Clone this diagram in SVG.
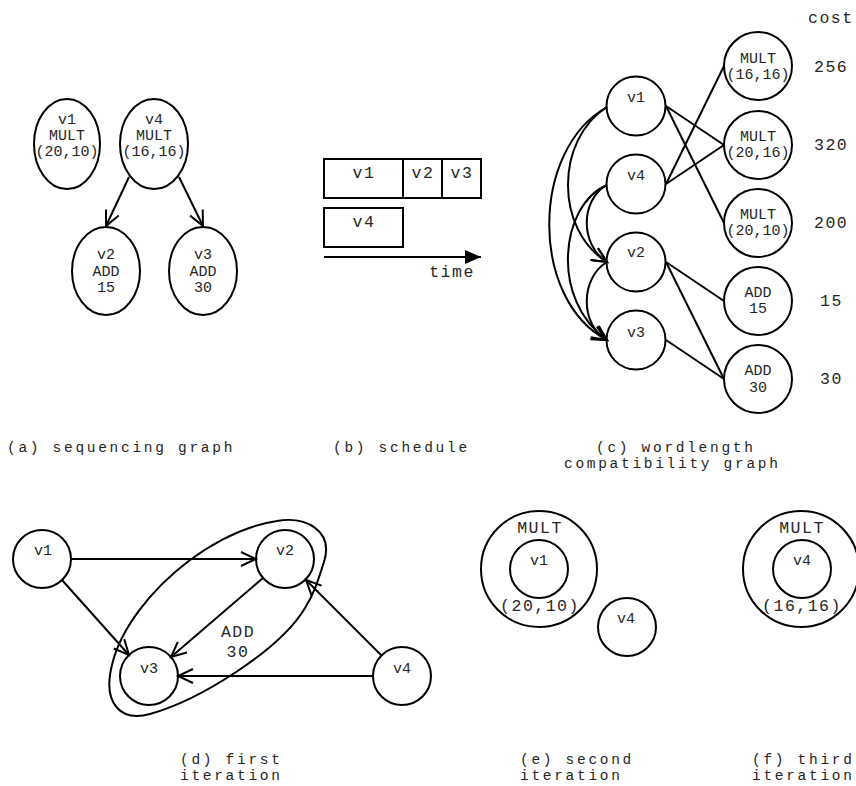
<svg xmlns="http://www.w3.org/2000/svg" width="856" height="786" viewBox="0 0 856 786">
<style>
.n{fill:none;stroke:#000;stroke-width:2}
.e{fill:none;stroke:#000;stroke-width:2}
text{font-family:"Liberation Mono","DejaVu Sans Mono",monospace;fill:#262626}
.t{font-size:15px;text-anchor:middle}
.b{font-size:16.5px;letter-spacing:1.5px;text-anchor:middle}
.c{font-size:16.5px;letter-spacing:1.5px;text-anchor:start}
.cap{font-size:14.5px;letter-spacing:2.7px;text-anchor:start}
</style>
<defs>
<marker id="a" viewBox="-16 -10 20 20" markerWidth="20" markerHeight="20" refX="0" refY="0" orient="auto" markerUnits="userSpaceOnUse">
<path d="M-15,-7 L0,0 L-15,7" fill="none" stroke="#000" stroke-width="2"/>
</marker>
<marker id="f" viewBox="-17 -8 18 16" markerWidth="18" markerHeight="16" refX="0" refY="0" orient="auto" markerUnits="userSpaceOnUse">
<path d="M-16,-7 L0,0 L-16,7 Z" fill="#000"/>
</marker>
</defs>
<rect width="856" height="786" fill="#fff"/>

<!-- Panel (a) -->
<g id="a-v1"><ellipse class="n" cx="67" cy="144" rx="33" ry="45"/>
<text class="t" x="67" y="124">v1</text><text class="t" x="67" y="140">MULT</text><text class="t" x="67" y="156">(20,10)</text></g>
<g id="a-v4"><ellipse class="n" cx="154" cy="144" rx="34" ry="45"/>
<text class="t" x="154" y="124">v4</text><text class="t" x="154" y="140">MULT</text><text class="t" x="154" y="156">(16,16)</text></g>
<g id="a-v2"><ellipse class="n" cx="106" cy="271" rx="34" ry="44"/>
<text class="t" x="106" y="259">v2</text><text class="t" x="106" y="276">ADD</text><text class="t" x="106" y="292">15</text></g>
<g id="a-v3"><ellipse class="n" cx="203" cy="271" rx="34" ry="44"/>
<text class="t" x="203" y="259">v3</text><text class="t" x="203" y="276">ADD</text><text class="t" x="203" y="292">30</text></g>
<g id="a-edges">
<path class="e" d="M129,177 L106,226" marker-end="url(#a)"/>
<path class="e" d="M179,177 L203,226" marker-end="url(#a)"/>
</g>

<!-- Panel (b) -->
<g id="b-schedule">
<rect class="n" x="324" y="159" width="157" height="39"/>
<line class="e" x1="403" y1="159" x2="403" y2="198"/>
<line class="e" x1="442" y1="159" x2="442" y2="198"/>
<rect class="n" x="324" y="208" width="79" height="39"/>
<text class="b" x="364" y="178">v1</text>
<text class="b" x="423" y="178">v2</text>
<text class="b" x="462" y="178">v3</text>
<text class="b" x="364" y="227">v4</text>
<path class="e" d="M324,257 L481,257" marker-end="url(#f)"/>
<text class="b" x="452" y="277">time</text>
</g>

<!-- Panel (c) -->
<g id="c-v1"><circle class="n" cx="636" cy="106" r="29.5"/><text class="t" x="636" y="102">v1</text></g>
<g id="c-v4"><circle class="n" cx="636" cy="184" r="29.5"/><text class="t" x="636" y="180">v4</text></g>
<g id="c-v2"><circle class="n" cx="636" cy="262" r="29.5"/><text class="t" x="636" y="257">v2</text></g>
<g id="c-v3"><circle class="n" cx="636" cy="340" r="29.5"/><text class="t" x="636" y="337">v3</text></g>
<g id="c-m1616"><circle class="n" cx="758" cy="66" r="34"/><text class="t" x="758" y="63">MULT</text><text class="t" x="758" y="79">(16,16)</text></g>
<g id="c-m2016"><circle class="n" cx="758" cy="145" r="34"/><text class="t" x="758" y="141">MULT</text><text class="t" x="758" y="157">(20,16)</text></g>
<g id="c-m2010"><circle class="n" cx="758" cy="223" r="34"/><text class="t" x="758" y="219">MULT</text><text class="t" x="758" y="235">(20,10)</text></g>
<g id="c-a15"><circle class="n" cx="758" cy="301" r="34"/><text class="t" x="758" y="297">ADD</text><text class="t" x="758" y="313">15</text></g>
<g id="c-a30"><circle class="n" cx="758" cy="379" r="34"/><text class="t" x="758" y="375">ADD</text><text class="t" x="758" y="392">30</text></g>
<g id="c-cost">
<text class="c" x="808" y="23">cost</text>
<text class="c" x="814" y="72">256</text>
<text class="c" x="814" y="150">320</text>
<text class="c" x="814" y="228">200</text>
<text class="c" x="820" y="306">15</text>
<text class="c" x="820" y="384">30</text>
</g>
<g id="c-edges">
<line class="e" x1="666" y1="106" x2="724" y2="145"/>
<line class="e" x1="666" y1="106" x2="724" y2="223"/>
<line class="e" x1="666" y1="184" x2="724" y2="66"/>
<line class="e" x1="666" y1="184" x2="724" y2="145"/>
<line class="e" x1="666" y1="262" x2="724" y2="301"/>
<line class="e" x1="666" y1="262" x2="724" y2="379"/>
<line class="e" x1="666" y1="340" x2="724" y2="379"/>
<path class="e" d="M607,107 C555,140 555,230 607,262" marker-end="url(#a)"/>
<path class="e" d="M607,107 C530,150 530,300 607,340" marker-end="url(#a)"/>
<path class="e" d="M607,185 C580,200 580,245 607,262" marker-end="url(#a)"/>
<path class="e" d="M607,185 C560,205 550,300 607,340" marker-end="url(#a)"/>
<path class="e" d="M607,262 C580,278 580,325 607,340" marker-end="url(#a)"/>
</g>

<!-- Panel (d) -->
<g id="d-v1"><circle class="n" cx="42" cy="559" r="29"/><text class="t" x="43" y="555">v1</text></g>
<g id="d-v2"><circle class="n" cx="285" cy="559" r="29"/><text class="t" x="285" y="555">v2</text></g>
<g id="d-v3"><circle class="n" cx="149" cy="676" r="29"/><text class="t" x="149" y="673">v3</text></g>
<g id="d-v4"><circle class="n" cx="402" cy="676" r="29"/><text class="t" x="402" y="673">v4</text></g>
<g id="d-cluster">
<path class="n" d="M277,521 C305,516 334,530 324,562 C318,580 315,592 305,608 C280,650 200,700 150,714 C122,722 102,705 112,665 C120,630 150,590 190,560 C220,538 250,525 277,521 Z"/>
<text class="b" x="238" y="637">ADD</text>
<text class="b" x="238" y="657">30</text>
</g>
<g id="d-edges">
<path class="e" d="M71,559 L256,559" marker-end="url(#a)"/>
<path class="e" d="M62,580 L129,655" marker-end="url(#a)"/>
<path class="e" d="M263,578 L171,657" marker-end="url(#a)"/>
<path class="e" d="M381,655 L306,580" marker-end="url(#a)"/>
<path class="e" d="M373,676 L178,676" marker-end="url(#a)"/>
</g>

<!-- Panel (e) -->
<g id="e-mult"><circle class="n" cx="539" cy="569" r="58"/>
<text class="b" x="540" y="533">MULT</text><text class="b" x="540" y="611">(20,10)</text></g>
<g id="e-v1"><circle class="n" cx="539" cy="569" r="29"/><text class="t" x="539" y="565">v1</text></g>
<g id="e-v4"><circle class="n" cx="627" cy="627" r="29"/><text class="t" x="626" y="623">v4</text></g>

<!-- Panel (f) -->
<g id="f-mult"><circle class="n" cx="801" cy="569" r="58"/>
<text class="b" x="802" y="533">MULT</text><text class="b" x="802" y="611">(16,16)</text></g>
<g id="f-v4"><circle class="n" cx="802" cy="569" r="29"/><text class="t" x="802" y="565">v4</text></g>

<!-- Captions -->
<g id="captions">
<text class="cap" x="7" y="452">(a) sequencing graph</text>
<text class="cap" x="333" y="452">(b) schedule</text>
<text class="cap" x="596" y="452">(c) wordlength</text>
<text class="cap" x="564" y="468">compatibility graph</text>
<text class="cap" x="180" y="764">(d) first</text>
<text class="cap" x="180" y="780">iteration</text>
<text class="cap" x="520" y="764">(e) second</text>
<text class="cap" x="520" y="780">iteration</text>
<text class="cap" x="752" y="764">(f) third</text>
<text class="cap" x="752" y="780">iteration</text>
</g>
</svg>
